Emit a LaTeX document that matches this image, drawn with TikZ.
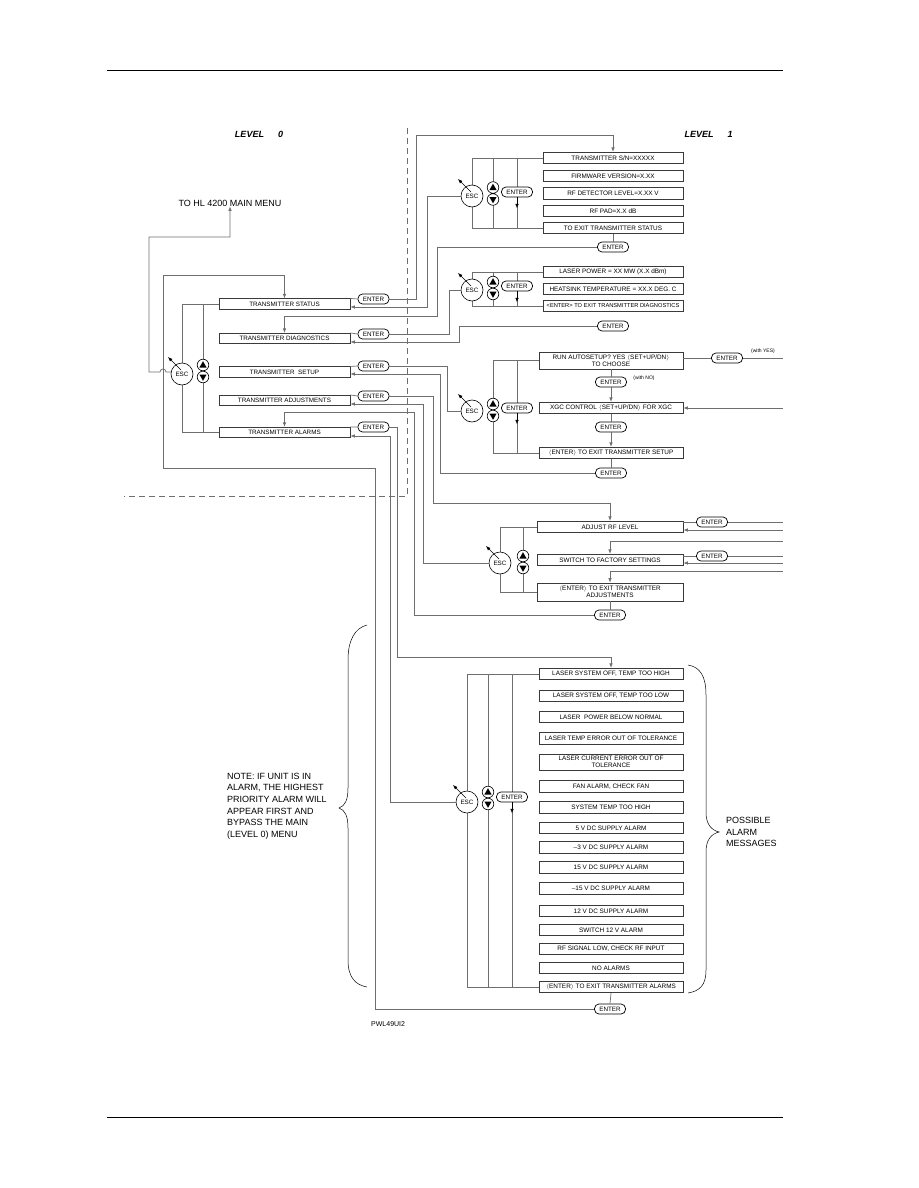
\documentclass[tikz,border=0pt]{standalone}
\usepackage{fontspec}
\setmainfont{Liberation Sans}
\usetikzlibrary{shapes.geometric, arrows.meta, positioning, backgrounds}
\definecolor{mline}{HTML}{6E6E6E}
\definecolor{mdark}{HTML}{3A3A3A}
\tikzstyle{mainitem} = [rectangle, draw=mdark, line width=0.6pt, minimum width=131pt, minimum height=10.5pt, inner sep=0pt, text centered, font=\fontsize{6.3}{7}\selectfont]
\tikzstyle{submenu} = [rectangle, draw=mdark, line width=0.6pt, minimum width=140pt, minimum height=11.5pt, inner xsep=0pt, inner ysep=2pt, align=center, font=\fontsize{6.4}{7.4}\selectfont]
\tikzstyle{enterkey} = [rectangle, rounded corners=4.5pt, draw=black, line width=0.7pt, fill=white, minimum width=31pt, minimum height=10pt, inner sep=0pt, font=\fontsize{6.3}{7}\selectfont]
\tikzstyle{esckey} = [circle, draw=black, line width=0.6pt, fill=white, minimum size=22pt, inner sep=0pt, font=\fontsize{6.3}{7}\selectfont]
\tikzstyle{wire} = [draw=mline, line width=0.7pt]
\tikzstyle{cable} = [wire, ->, >={Latex[length=4.5pt,width=3.5pt]}]
\tikzstyle{escarrow} = [black, line width=0.6pt, ->, >={Latex[length=4.5pt,width=3.5pt]}]
\tikzstyle{bracket} = [draw=mline, line width=0.7pt]
\tikzstyle{brace} = [draw=black, line width=0.5pt]
\tikzstyle{note} = [font=\fontsize{9}{11.6}\selectfont, align=left, inner sep=0pt]
\tikzstyle{level} = [font=\fontsize{9}{10}\selectfont\bfseries\itshape]
\tikzstyle{hint} = [font=\fontsize{5}{6}\selectfont, inner sep=0pt]

\begin{document}
\begin{tikzpicture}[x=1pt, y=-1pt]
\useasboundingbox (0,0) rectangle (918,1188);
%Page rules
\draw[line width=0.8pt] (107,70) -- (783,70);
\draw[line width=0.8pt] (107,1117) -- (783,1117);

%Levels
\node (lev0) [level] at (259,134) {LEVEL\hspace{14pt}0};
\node (lev1) [level] at (708.5,134) {LEVEL\hspace{14pt}1};
\draw[mline, line width=0.6pt, dash pattern=on 6pt off 4pt] (407,128) -- (407,496) -- (124,496);

%Level 0 menu
\node (main) [note] at (230,203) {TO HL 4200 MAIN MENU};
\node (b0st) [mainitem] at (284.5,304) {TRANSMITTER STATUS};
\node (b0dg) [mainitem] at (284.5,338.5) {TRANSMITTER DIAGNOSTICS};
\node (b0su) [mainitem] at (284.5,372) {TRANSMITTER\ \ SETUP};
\node (b0ad) [mainitem] at (284.5,400.5) {TRANSMITTER ADJUSTMENTS};
\node (b0al) [mainitem] at (284.5,432.5) {TRANSMITTER ALARMS};
\node (e0st) [enterkey] at (373.5,299) {ENTER};
\node (e0dg) [enterkey] at (373.5,334) {ENTER};
\node (e0su) [enterkey] at (373.5,366) {ENTER};
\node (e0ad) [enterkey] at (373.5,396) {ENTER};
\node (e0al) [enterkey] at (373.5,427) {ENTER};
\node (esc0) [esckey] at (182,374) {ESC};

%Transmitter status
\node (b1sn) [submenu] at (613,158) {TRANSMITTER S/N=XXXXX};
\node (b1fw) [submenu] at (613,176) {FIRMWARE VERSION=X.XX};
\node (b1rd) [submenu] at (613,193.5) {RF DETECTOR LEVEL=X.XX V};
\node (b1rp) [submenu] at (613,211) {RF PAD=X.X dB};
\node (b1sx) [submenu] at (613,228) {TO EXIT TRANSMITTER STATUS};
\node (esc1st) [esckey] at (472,196) {ESC};
\node (ein1st) [enterkey] at (517,192) {ENTER};
\node (e1st) [enterkey] at (613,247) {ENTER};

%Transmitter diagnostics
\node (b1lp) [submenu] at (613,272) {LASER POWER = XX MW (X.X dBm)};
\node (b1hs) [submenu] at (613,289) {HEATSINK TEMPERATURE = XX.X DEG. C};
\node (b1dx) [submenu, font=\fontsize{5.7}{6.5}\selectfont] at (613,306) {<ENTER> TO EXIT TRANSMITTER DIAGNOSTICS};
\node (esc1dg) [esckey] at (472,290) {ESC};
\node (ein1dg) [enterkey] at (517,286) {ENTER};
\node (e1dg) [enterkey] at (613,326) {ENTER};

%Transmitter setup
\node (b1au) [submenu, minimum width=144pt, minimum height=17pt] at (611,360.5) {RUN AUTOSETUP? YES $\langle$SET+UP/DN$\rangle$\\TO CHOOSE};
\node (e1yes) [enterkey] at (727,358) {ENTER};
\node (yes) [hint] at (763,351) {(with YES)};
\node (e1no) [enterkey] at (611,382) {ENTER};
\node (no) [hint] at (644,378) {(with NO)};
\node (b1xg) [submenu, minimum width=144pt] at (611,408) {XGC CONTROL $\langle$SET+UP/DN$\rangle$ FOR XGC};
\node (e1xg) [enterkey] at (611,427) {ENTER};
\node (b1ux) [submenu, minimum width=144pt] at (611,453) {$\langle$ENTER$\rangle$ TO EXIT TRANSMITTER SETUP};
\node (e1su) [enterkey] at (611,473) {ENTER};
\node (esc1su) [esckey] at (472,411) {ESC};
\node (ein1su) [enterkey] at (517,408) {ENTER};

%Transmitter adjustments
\node (b1rf) [submenu, minimum width=146pt] at (610,527) {ADJUST RF LEVEL};
\node (e1rf) [enterkey] at (712,522) {ENTER};
\node (b1fs) [submenu, minimum width=146pt] at (610,560) {SWITCH TO FACTORY SETTINGS};
\node (e1fs) [enterkey] at (712,556) {ENTER};
\node (b1ax) [submenu, minimum width=146pt, minimum height=18pt] at (610,592) {$\langle$ENTER$\rangle$ TO EXIT TRANSMITTER\\ADJUSTMENTS};
\node (e1ad) [enterkey] at (610,615) {ENTER};
\node (esc1ad) [esckey] at (500,563) {ESC};

%Transmitter alarms
\foreach \n/\y/\t in {1/674/{LASER SYSTEM OFF, TEMP TOO HIGH}, 2/696/{LASER SYSTEM OFF, TEMP TOO LOW},
  3/717/{LASER\ \ POWER BELOW NORMAL}, 4/738.5/{LASER TEMP ERROR OUT OF TOLERANCE},
  5/762/{LASER CURRENT ERROR OUT OF\\TOLERANCE}, 6/786.5/{FAN ALARM, CHECK FAN},
  7/807.5/{SYSTEM TEMP TOO HIGH}, 8/828/{5 V DC SUPPLY ALARM}, 9/847.5/{--3 V DC SUPPLY ALARM},
  10/867.5/{15 V DC SUPPLY ALARM}, 11/888.5/{--15 V DC SUPPLY ALARM}, 12/911/{12 V DC SUPPLY ALARM},
  13/930/{SWITCH 12 V ALARM}, 14/949/{RF SIGNAL LOW, CHECK RF INPUT}, 15/968/{NO ALARMS},
  16/987/{$\langle$ENTER$\rangle$ TO EXIT TRANSMITTER ALARMS}}
  \node (b1a\n) [submenu, minimum width=144pt] at (611,\y) {\t};
\node (esc1al) [esckey] at (467,802) {ESC};
\node (ein1al) [enterkey] at (512,797) {ENTER};
\node (e1al) [enterkey] at (610,1009) {ENTER};

%Notes
\node (almsg) [note, anchor=west] at (726,832) {POSSIBLE\\ALARM\\MESSAGES};
\node (unitnote) [note, anchor=west] at (227,806) {NOTE: IF UNIT IS IN\\ALARM, THE HIGHEST\\PRIORITY ALARM WILL\\APPEAR FIRST AND\\BYPASS THE MAIN\\(LEVEL 0) MENU};
\node (pwl) [font=\fontsize{7}{8}\selectfont, anchor=west, inner sep=0pt] at (371,1024) {PWL49UI2};
\draw[brace] (688,665) .. controls (700,667) and (706,676) .. (706,695) -- (706,812) .. controls (706,824) and (711,830) .. (719,832) .. controls (711,834) and (706,840) .. (706,852) -- (706,970) .. controls (706,985) and (700,991) .. (688,993);
\draw[brace] (367,625) .. controls (355,628) and (348,640) .. (348,660) -- (348,788) .. controls (348,800) and (345,806) .. (339,808) .. controls (345,810) and (348,816) .. (348,828) -- (348,960) .. controls (348,978) and (356,985) .. (367,987);

%Brackets
\begin{pgfonlayer}{background}
\draw[bracket] (b0st.west) -| (182,432.5) -- (b0al.west);
\draw[bracket] (203,304) -- (203,432.5);
\draw[bracket] (b1sn.west) -| (472,228) -- (b1sx.west);
\draw[bracket] (493,158) -- (493,228);
\draw[bracket] (517,158) -- (517,228);
\draw[bracket] (b1lp.west) -| (472,306) -- (b1dx.west);
\draw[bracket] (493,272) -- (493,306);
\draw[bracket] (517,272) -- (517,306);
\draw[bracket] (b1au.west) -| (493,453) -- (b1ux.west);
\draw[bracket] (517,360.5) -- (517,453);
\draw[bracket] (b1rf.west) -| (500,592) -- (b1ax.west);
\draw[bracket] (523,527) -- (523,592);
\draw[bracket] (b1a1.west) -| (467,987) -- (b1a16.west);
\draw[bracket] (488,674) -- (488,987);
\draw[bracket] (512,674) -- (512,987);
\end{pgfonlayer}
\foreach \x/\y in {203/371, 493/193.5, 493/288, 493/410, 523/562, 488/798} {
  \draw[black, line width=0.6pt, fill=white] (\x,\y-6) circle (5.8pt) (\x,\y+6) circle (5.8pt);
  \fill (\x-3.6,\y-3.5) -- (\x+3.6,\y-3.5) -- (\x,\y-9.8) -- cycle;
  \fill (\x-3.6,\y+3.5) -- (\x+3.6,\y+3.5) -- (\x,\y+9.8) -- cycle;
}
\foreach \e in {esc0, esc1st, esc1dg, esc1su, esc1ad, esc1al}
  \draw[escarrow] ([shift={(-1,-4)}]\e.center) -- ([shift={(-14,-17)}]\e.center);
\foreach \e in {ein1st, ein1dg, ein1su, ein1al}
  \draw[escarrow] (\e.south) -- ++(0,11);

%Level 0 connections
\foreach \b/\e in {b0st/e0st, b0dg/e0dg, b0su/e0su, b0ad/e0ad, b0al/e0al}
  \draw[wire] (\b.north east) -- (\e.west);
\draw[cable] (esc0.170) -- (166,372) arc (0:-180:3) -- (149,372) |- (230,237) -- (main.south);
\draw[cable] (e0st.east) -| (416,135) -| (b1sn.north);
\draw[cable] (esc1st.west) -| (427,307) -- ([yshift=-3pt]b0st.east);
\draw[wire] (b1sx.south) -- (e1st.north);
\draw[cable] (e1st.west) -| (437,316) -| (b0dg.north);
\draw[wire] (e0dg.east) -| (449,290) -- (esc1dg.west);
\draw[cable] (e1dg.west) -| (459,342) -- ([yshift=-3.5pt]b0dg.east);
\draw[wire] (e0su.east) -| (447,411) -- (esc1su.west);
\draw[wire] (b1ux.south) -- (e1su.north);
\draw[cable] (e1su.west) -| (440,374) -- ([yshift=-2pt]b0su.east);
\draw[cable] (e0ad.east) -| (433,503) -| (b1rf.north);
\draw[cable] (esc1ad.west) -| (423,404) -- ([yshift=-3.5pt]b0ad.east);
\draw[wire] (b1ax.south) -- (e1ad.north);
\draw[cable] (e1ad.west) -| (414,412) -| (b0al.north);
\draw[cable] (e0al.east) -| (397,657) -| (b1a1.north);
\draw[cable] (esc1al.west) -| (390,436) -- ([yshift=-3.5pt]b0al.east);
\draw[wire] (b1a16.south) -- (e1al.north);
\draw[cable] (e1al.west) -| (375,468) -| (163,275) -| (b0st.north);

%Setup steps
\coordinate (r1) at (783,358);
\coordinate (r2) at (783,408);
\draw[wire] (b1au.east |- e1yes) -- (e1yes.west);
\draw[wire] (e1yes.east) -- (r1);
\draw[cable] (r2) -- (b1xg.east);
\draw[wire] (b1au.south) -- (e1no.north);
\draw[cable] (e1no.south) -- (b1xg.north);
\draw[wire] (b1xg.south) -- (e1xg.north);
\draw[cable] (e1xg.south) -- (b1ux.north);

%Adjustment steps
\coordinate (r3) at (783,522);
\coordinate (r4) at (783,530);
\coordinate (r5) at (783,541);
\coordinate (r6) at (783,556);
\coordinate (r7) at (783,563);
\coordinate (r8) at (783,571);
\draw[wire] (b1rf.east |- e1rf) -- (e1rf.west);
\draw[wire] (e1rf.east) -- (r3);
\draw[cable] (r4) -- (b1rf.east |- r4);
\draw[cable] (r5) -| (b1fs.north);
\draw[wire] (b1fs.east |- e1fs) -- (e1fs.west);
\draw[wire] (e1fs.east) -- (r6);
\draw[cable] (r7) -- (b1fs.east |- r7);
\draw[cable] (r8) -| (b1ax.north);
\end{tikzpicture}
\end{document}
